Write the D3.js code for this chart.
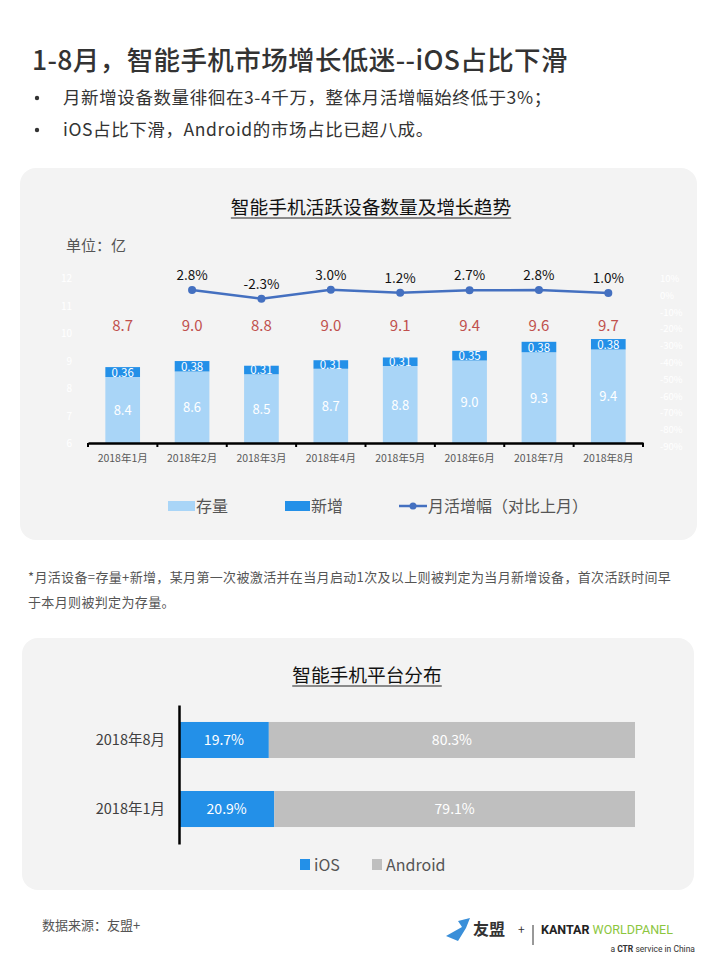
<!DOCTYPE html>
<html>
<head>
<meta charset="utf-8">
<script src="https://cdn.jsdelivr.net/npm/d3@7"></script>
<style>
  html, body { margin: 0; padding: 0; background: #fff; }
  svg { display: block; font-family: "Noto Sans CJK SC", "Noto Sans", sans-serif; }
</style>
</head>
<body>
<svg id="page" width="720" height="960"></svg>
<script>
// Chart 1: active devices (亿) and month-on-month growth
const months = ['2018年1月', '2018年2月', '2018年3月', '2018年4月', '2018年5月', '2018年6月', '2018年7月', '2018年8月'];
const stock = [8.4, 8.6, 8.5, 8.7, 8.8, 9.0, 9.3, 9.4];
const newAdd = [0.36, 0.38, 0.31, 0.31, 0.31, 0.35, 0.38, 0.38];
const totals = [8.7, 9.0, 8.8, 9.0, 9.1, 9.4, 9.6, 9.7];
const growth = [null, 2.8, -2.3, 3.0, 1.2, 2.7, 2.8, 1.0];
const leftTicks = [6, 7, 8, 9, 10, 11, 12];
const rightTicks = [10, 0, -10, -20, -30, -40, -50, -60, -70, -80, -90];

// Chart 2: platform share
const periods = ['2018年8月', '2018年1月'];
const iosShare = [19.7, 20.9];
const androidShare = [80.3, 79.1];

const C = {
  light: '#a9d5f7', dark: '#2390e8', line: '#4470c0', red: '#c0504d',
  gray: '#bfbfbf', card: '#f3f3f3', text: '#404040'
};

const svg = d3.select('#page');

// Header
svg.append('text').attr('x', 32).attr('y', 70)
  .attr('font-size', 26.5).attr('font-weight', 500).attr('fill', '#333')
  .attr('letter-spacing', 0.4)
  .text('1-8月，智能手机市场增长低迷--iOS占比下滑');
const bullets = ['月新增设备数量徘徊在3-4千万，整体月活增幅始终低于3%；', 'iOS占比下滑，Android的市场占比已超八成。'];
bullets.forEach((b, i) => {
  svg.append('circle').attr('cx', 37).attr('cy', 98 + i * 32).attr('r', 2.2).attr('fill', '#333');
  svg.append('text').attr('x', 63).attr('y', 104 + i * 32)
    .attr('font-size', 17.5).attr('letter-spacing', 0.6).attr('fill', '#333').text(b);
});

// Cards
svg.append('rect').attr('x', 20).attr('y', 168).attr('width', 677).attr('height', 372)
  .attr('rx', 16).attr('fill', C.card);
svg.append('rect').attr('x', 22).attr('y', 638).attr('width', 672).attr('height', 252)
  .attr('rx', 16).attr('fill', C.card);

function underlinedTitle(text, cx, y, size) {
  const t = svg.append('text').attr('x', cx).attr('y', y).attr('text-anchor', 'middle')
    .attr('font-size', size).attr('font-weight', 400).attr('fill', '#111').text(text);
  const w = t.node().getComputedTextLength();
  svg.append('line').attr('x1', cx - w / 2).attr('x2', cx + w / 2)
    .attr('y1', y + 4).attr('y2', y + 4).attr('stroke', '#222').attr('stroke-width', 1.2);
}

// ---- Chart 1 ----
underlinedTitle('智能手机活跃设备数量及增长趋势', 371, 214, 18.7);
svg.append('text').attr('x', 66).attr('y', 251).attr('font-size', 15).attr('fill', '#555').text('单位：亿');

const x = d3.scaleBand().domain(months).range([88, 643]).paddingInner(0.5).paddingOuter(0.25);
const y = d3.scaleLinear().domain([6, 12]).range([443, 278]);
const y2 = d3.scaleLinear().domain([-90, 10]).range([446, 278]);

// faint axis labels (white on the card, as in the source)
const g1 = svg.append('g');
g1.selectAll('.lt').data(leftTicks).join('text')
  .attr('x', 72).attr('y', d => y(d) + 4).attr('text-anchor', 'end')
  .attr('font-size', 10).attr('fill', '#fff').text(d => d);
g1.selectAll('.rt').data(rightTicks).join('text')
  .attr('x', 660).attr('y', d => y2(d) + 4)
  .attr('font-size', 9.5).attr('fill', '#fff').text(d => d + '%');

// stacked bars
const bars = months.map((m, i) => ({ m, s: stock[i], n: newAdd[i], t: totals[i] }));
g1.selectAll('.stock').data(bars).join('rect')
  .attr('x', d => x(d.m)).attr('width', x.bandwidth())
  .attr('y', d => y(d.s)).attr('height', d => y(6) - y(d.s))
  .attr('fill', C.light);
g1.selectAll('.newadd').data(bars).join('rect')
  .attr('x', d => x(d.m)).attr('width', x.bandwidth())
  .attr('y', d => y(d.s + d.n)).attr('height', d => y(d.s) - y(d.s + d.n))
  .attr('fill', C.dark);
g1.selectAll('.slab').data(bars).join('text')
  .attr('x', d => x(d.m) + x.bandwidth() / 2).attr('y', d => (y(d.s) + y(6)) / 2 + 5)
  .attr('text-anchor', 'middle').attr('font-size', 13).attr('fill', '#fff').text(d => d.s.toFixed(1));
g1.selectAll('.nlab').data(bars).join('text')
  .attr('x', d => x(d.m) + x.bandwidth() / 2).attr('y', d => (y(d.s) + y(d.s + d.n)) / 2 + 4.5)
  .attr('text-anchor', 'middle').attr('font-size', 11.5).attr('fill', '#fff').text(d => d.n.toFixed(2));
g1.selectAll('.tlab').data(bars).join('text')
  .attr('x', d => x(d.m) + x.bandwidth() / 2).attr('y', 331)
  .attr('text-anchor', 'middle').attr('font-size', 15).attr('fill', C.red).text(d => d.t.toFixed(1));

// x axis
const xAxis = d3.axisBottom(x).tickSize(0).tickPadding(12);
const ax = g1.append('g').attr('transform', 'translate(0,443)').call(xAxis);
ax.select('.domain').attr('stroke', '#000').attr('stroke-width', 2.5);
ax.selectAll('text').attr('font-size', 10.5).attr('fill', '#595959')
  .attr('font-family', '"Noto Sans CJK SC", sans-serif');
const bounds = d3.range(9).map(i => 88 + i * (555 / 8));
ax.selectAll('.bt').data(bounds).join('line')
  .attr('x1', d => d).attr('x2', d => d).attr('y1', 0).attr('y2', 4)
  .attr('stroke', '#000').attr('stroke-width', 2);

// growth line
const pts = months.map((m, i) => ({ m, v: growth[i] })).filter(d => d.v !== null);
const lineGen = d3.line().x(d => x(d.m) + x.bandwidth() / 2).y(d => y2(d.v));
g1.append('path').datum(pts).attr('d', lineGen)
  .attr('fill', 'none').attr('stroke', C.line).attr('stroke-width', 2.5);
g1.selectAll('.dot').data(pts).join('circle')
  .attr('cx', d => x(d.m) + x.bandwidth() / 2).attr('cy', d => y2(d.v)).attr('r', 4)
  .attr('fill', C.line);
g1.selectAll('.glab').data(pts).join('text')
  .attr('x', d => x(d.m) + x.bandwidth() / 2).attr('y', d => y2(d.v) - 10)
  .attr('text-anchor', 'middle').attr('font-size', 13.5).attr('fill', '#111')
  .text(d => d.v.toFixed(1) + '%');

// legend
const lg = svg.append('g').attr('font-size', 16).attr('fill', '#555');
lg.append('rect').attr('x', 168).attr('y', 501).attr('width', 27).attr('height', 10).attr('fill', C.light);
lg.append('text').attr('x', 196).attr('y', 512).text('存量');
lg.append('rect').attr('x', 285).attr('y', 501).attr('width', 25).attr('height', 10).attr('fill', C.dark);
lg.append('text').attr('x', 311).attr('y', 512).text('新增');
lg.append('line').attr('x1', 399).attr('x2', 427).attr('y1', 506).attr('y2', 506)
  .attr('stroke', C.line).attr('stroke-width', 2.5);
lg.append('circle').attr('cx', 413).attr('cy', 506).attr('r', 3.5).attr('fill', C.line);
lg.append('text').attr('x', 428).attr('y', 512).text('月活增幅（对比上月）');

// footnote
const notes = ['*月活设备=存量+新增，某月第一次被激活并在当月启动1次及以上则被判定为当月新增设备，首次活跃时间早', '于本月则被判定为存量。'];
notes.forEach((n, i) => svg.append('text').attr('x', 28).attr('y', 582 + i * 25)
  .attr('font-size', 13).attr('letter-spacing', 0.35).attr('fill', '#555').text(n));

// ---- Chart 2 ----
underlinedTitle('智能手机平台分布', 367, 682, 18.7);
const xs = d3.scaleLinear().domain([0, 100]).range([179, 635]);
const ys = d3.scaleBand().domain(periods).range([705, 844]).paddingInner(0.478).paddingOuter(0.246);
const shares = periods.map((p, i) => ({ p, ios: iosShare[i], and: androidShare[i] }));
const g2 = svg.append('g');
g2.selectAll('.ios').data(shares).join('rect')
  .attr('x', xs(0)).attr('y', d => ys(d.p)).attr('height', ys.bandwidth())
  .attr('width', d => xs(d.ios) - xs(0)).attr('fill', C.dark);
g2.selectAll('.and').data(shares).join('rect')
  .attr('x', d => xs(d.ios)).attr('y', d => ys(d.p)).attr('height', ys.bandwidth())
  .attr('width', d => xs(d.ios + d.and) - xs(d.ios)).attr('fill', C.gray);
g2.selectAll('.il').data(shares).join('text')
  .attr('x', d => (xs(0) + xs(d.ios)) / 2).attr('y', d => ys(d.p) + ys.bandwidth() / 2 + 5)
  .attr('text-anchor', 'middle').attr('font-size', 14).attr('fill', '#fff').text(d => d.ios.toFixed(1) + '%');
g2.selectAll('.al').data(shares).join('text')
  .attr('x', d => (xs(d.ios) + xs(100)) / 2).attr('y', d => ys(d.p) + ys.bandwidth() / 2 + 5)
  .attr('text-anchor', 'middle').attr('font-size', 14).attr('fill', '#fff').text(d => d.and.toFixed(1) + '%');
const yAx = g2.append('g').attr('transform', 'translate(179,0)').call(d3.axisLeft(ys).tickSize(0).tickPadding(14));
yAx.select('.domain').attr('stroke', '#000').attr('stroke-width', 2.5);
yAx.selectAll('text').attr('font-size', 14.5).attr('fill', '#404040')
  .attr('font-family', '"Noto Sans CJK SC", sans-serif');

const lg2 = svg.append('g').attr('font-size', 16).attr('fill', '#555');
lg2.append('rect').attr('x', 300).attr('y', 859).attr('width', 10).attr('height', 11).attr('fill', C.dark);
lg2.append('text').attr('x', 314).attr('y', 871).text('iOS');
lg2.append('rect').attr('x', 372).attr('y', 859).attr('width', 10).attr('height', 11).attr('fill', C.gray);
lg2.append('text').attr('x', 386).attr('y', 871).text('Android');

// footer
svg.append('text').attr('x', 42).attr('y', 930).attr('font-size', 13).attr('fill', '#555').text('数据来源：友盟+');
const ft = svg.append('g');
ft.append('path').attr('d', 'M446,936 L462,927 L458,921 L470,918 L466,928 L458,941 Z').attr('fill', '#3a8fd9');
ft.append('text').attr('x', 473).attr('y', 935).attr('font-size', 16).attr('font-weight', 700).attr('fill', '#333').text('友盟');
ft.append('text').attr('x', 518).attr('y', 934).attr('font-size', 12).attr('fill', '#333').text('+');
ft.append('line').attr('x1', 533).attr('x2', 533).attr('y1', 925).attr('y2', 945).attr('stroke', '#333').attr('stroke-width', 1);
const kt = ft.append('text').attr('x', 541).attr('y', 934).attr('font-size', 12.5).attr('font-family', 'Roboto, sans-serif');
kt.append('tspan').attr('font-weight', 700).attr('fill', '#222').text('KANTAR ');
kt.append('tspan').attr('fill', '#8cc63e').text('WORLDPANEL');
const ctr = ft.append('text').attr('x', 695).attr('y', 952).attr('text-anchor', 'end')
  .attr('font-size', 8.5).attr('fill', '#333').attr('font-family', 'Roboto, sans-serif');
ctr.append('tspan').text('a ');
ctr.append('tspan').attr('font-weight', 700).text('CTR');
ctr.append('tspan').text(' service in China');
</script>
</body>
</html>
